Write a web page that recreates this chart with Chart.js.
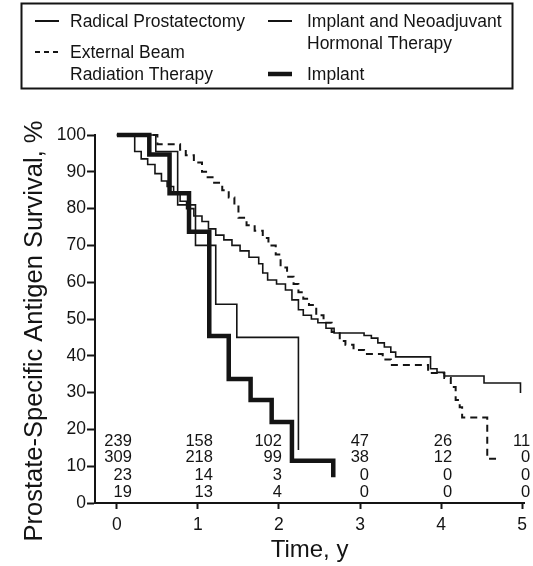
<!DOCTYPE html>
<html>
<head>
<meta charset="utf-8">
<script src="https://cdn.jsdelivr.net/npm/chart.js@4.4.1/dist/chart.umd.min.js"></script>
<style>
  html, body { margin: 0; padding: 0; background: #fff; }
  canvas { display: block; }
</style>
</head>
<body>
<canvas id="kmChart" width="533" height="566"></canvas>
<script>
// Kaplan-Meier curves (time in years, survival in %)
var rpTime = [0, 0.22, 0.30, 0.38, 0.47, 0.55, 0.62, 0.70, 0.78, 0.86, 0.95, 1.05, 1.13, 1.22, 1.32, 1.42, 1.52, 1.63, 1.75, 1.80, 1.86, 1.97, 2.08, 2.16, 2.24, 2.30, 2.40, 2.48, 2.58, 2.68, 3.05, 3.14, 3.22, 3.30, 3.38, 3.44, 3.87, 3.95, 4.04, 4.53, 4.98];
var rpSurv = [100, 95.5, 93.5, 92, 89.5, 87.5, 86, 84, 82, 80, 78, 76.5, 74.5, 72.8, 71.5, 70, 68.5, 66.8, 65, 62.5, 60.6, 59.5, 57.9, 55.2, 52.5, 51, 50, 49, 47.5, 46.2, 45.5, 44.8, 43.5, 42.4, 41, 39.7, 36.5, 35.5, 34.5, 32.6, 29.9];

var ebrtTime = [0, 0.50, 0.78, 0.85, 0.95, 1.05, 1.12, 1.20, 1.30, 1.38, 1.45, 1.50, 1.60, 1.70, 1.80, 1.87, 1.96, 2.02, 2.10, 2.18, 2.24, 2.30, 2.37, 2.46, 2.55, 2.65, 2.75, 2.82, 2.92, 3.05, 3.28, 3.38, 3.84, 4.04, 4.12, 4.18, 4.23, 4.26, 4.57, 4.70];
var ebrtSurv = [100, 97.5, 96, 94.5, 92.5, 90, 88.5, 87, 85, 83, 81, 77.5, 75.5, 74, 72, 70, 67.5, 64, 61.5, 59.5, 57.3, 55.5, 53.8, 51, 49, 46.5, 44, 43, 41.6, 40.5, 39, 37.5, 35.3, 34, 31.5, 28, 26, 23.2, 12, 12];

var nhtTime = [0, 0.48, 0.75, 0.97, 1.22, 1.48, 2.24];
var nhtSurv = [100, 95.5, 81, 70, 54, 45, 14.4];

var impTime = [0, 0.40, 0.65, 0.89, 1.14, 1.38, 1.65, 1.91, 2.16, 2.67];
var impSurv = [100, 94.7, 84.2, 73.7, 45.4, 33.7, 28, 22, 11.5, 7];

// numbers at risk
var riskTimes = [0, 1, 2, 3, 4, 5];
var riskRP   = [239, 158, 102, 47, 26, 11];
var riskEBRT = [309, 218, 99, 38, 12, 0];
var riskNHT  = [23, 14, 3, 0, 0, 0];
var riskImp  = [19, 13, 4, 0, 0, 0];

var timeTicks = [0, 1, 2, 3, 4, 5];
var survTicks = [0, 10, 20, 30, 40, 50, 60, 70, 80, 90, 100];

var ink = '#141414';
var fam = "'Liberation Sans', Arial, Helvetica, sans-serif";

function pts(t, s) {
  return t.map(function (v, i) { return { x: v, y: s[i] }; });
}

var paperPlugin = {
  id: 'paper',
  beforeDraw: function (chart) {
    var c = chart.ctx;
    c.save();
    c.fillStyle = '#fff';
    c.fillRect(0, 0, chart.width, chart.height);
    c.restore();
  },
  afterDraw: function (chart) {
    var c = chart.ctx;
    var xs = chart.scales.x;
    c.save();

    // legend box
    c.strokeStyle = ink;
    c.lineWidth = 2;
    c.strokeRect(21.5, 3.5, 491, 85);

    var slots = [{ x: 35, y: 22 }, { x: 35, y: 53 }, { x: 268, y: 22 }, { x: 268, y: 75 }];
    c.font = '17.5px ' + fam;
    c.textBaseline = 'middle';
    c.textAlign = 'left';
    chart.data.datasets.forEach(function (ds, i) {
      var s = slots[i];
      c.strokeStyle = ds.borderColor;
      c.lineWidth = ds.borderWidth === 4.5 ? 4.5 : 2;
      c.setLineDash(ds.borderDash ? [5, 4] : []);
      c.beginPath();
      c.moveTo(s.x, s.y - 1);
      c.lineTo(s.x + 24, s.y - 1);
      c.stroke();
      c.setLineDash([]);
      c.fillStyle = ink;
      var lines = Array.isArray(ds.label) ? ds.label : [ds.label];
      lines.forEach(function (txt, k) {
        c.fillText(txt, s.x + 35 + (i >= 2 ? 4 : 0), s.y + k * 22);
      });
    });

    // numbers at risk
    var rows = [riskRP, riskEBRT, riskNHT, riskImp];
    var rowLift = [62, 46, 28, 11];
    var shift = [15, 15, 3, 9, 11, 8];
    c.font = '16.5px ' + fam;
    c.textAlign = 'right';
    c.fillStyle = ink;
    rows.forEach(function (row, r) {
      row.forEach(function (n, i) {
        c.fillText(String(n), xs.getPixelForValue(riskTimes[i]) + shift[i], chart.chartArea.bottom - rowLift[r]);
      });
    });

    // y axis title
    c.translate(35, 331);
    c.rotate(-Math.PI / 2);
    c.textAlign = 'center';
    c.font = '25.5px ' + fam;
    c.fillText('Prostate-Specific Antigen Survival, %', 0, 0);
    c.restore();
  }
};

var ctx = document.getElementById('kmChart');

var chart = new Chart(ctx, {
  type: 'line',
  data: {
    datasets: [
      {
        label: 'Radical Prostatectomy',
        data: pts(rpTime, rpSurv),
        borderColor: ink,
        borderWidth: 1.6,
        stepped: true
      },
      {
        label: ['External Beam', 'Radiation Therapy'],
        data: pts(ebrtTime, ebrtSurv),
        borderColor: ink,
        borderWidth: 2,
        borderDash: [7, 5],
        stepped: true
      },
      {
        label: ['Implant and Neoadjuvant', 'Hormonal Therapy'],
        data: pts(nhtTime, nhtSurv),
        borderColor: ink,
        borderWidth: 1.6,
        stepped: true
      },
      {
        label: 'Implant',
        data: pts(impTime, impSurv),
        borderColor: ink,
        borderWidth: 4.5,
        stepped: true
      }
    ]
  },
  options: {
    responsive: false,
    animation: false,
    devicePixelRatio: 1,
    clip: 6,
    elements: { point: { radius: 0 }, line: { fill: false, capBezierPoints: false } },
    layout: { padding: { top: 135, right: 6, bottom: 0, left: 0 } },
    plugins: { legend: { display: false }, tooltip: { enabled: false } },
    scales: {
      x: {
        type: 'linear',
        min: -0.27,
        max: 5.025,
        afterBuildTicks: function (s) { s.ticks = timeTicks.map(function (v) { return { value: v }; }); },
        afterFit: function (s) { s.height = 63; },
        grid: { drawOnChartArea: false, drawTicks: true, tickLength: 6, tickWidth: 2, color: ink },
        border: { display: true, color: ink, width: 2 },
        ticks: { color: ink, font: { family: fam, size: 17.5 }, padding: 6, maxRotation: 0, autoSkip: false },
        title: { display: true, text: 'Time, y', color: ink, font: { family: fam, size: 24 }, padding: { top: 0, bottom: 1 } }
      },
      y: {
        type: 'linear',
        min: 0,
        max: 100,
        afterBuildTicks: function (s) { s.ticks = survTicks.map(function (v) { return { value: v }; }); },
        afterFit: function (s) { s.width = 95; },
        grid: { drawOnChartArea: false, drawTicks: true, tickLength: 8, tickWidth: 2, color: ink },
        border: { display: true, color: ink, width: 2 },
        ticks: { color: ink, font: { family: fam, size: 17.5 }, padding: 1 }
      }
    }
  },
  plugins: [paperPlugin]
});
</script>
</body>
</html>
